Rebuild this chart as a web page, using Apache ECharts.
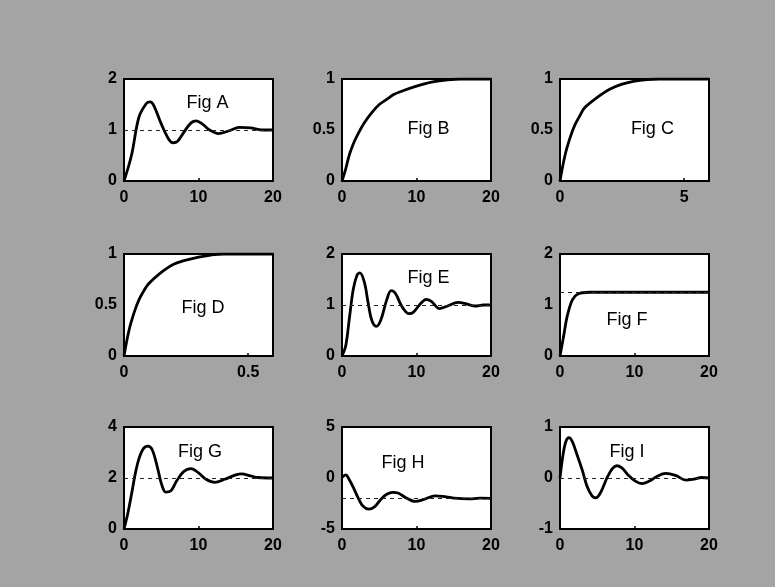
<!DOCTYPE html>
<html>
<head>
<meta charset="utf-8">
<script src="https://cdn.jsdelivr.net/npm/echarts@6/dist/echarts.min.js"></script>
<style>
  html, body { margin: 0; padding: 0; background: #a4a4a4; }
  #chart { width: 775px; height: 587px; }
</style>
</head>
<body>
<div id="chart"></div>
<script>
// step response curves as [t, y]
const figA = [[0,0],[1,0.5],[2,1.25],[3,1.52],[3.5,1.55],[4,1.48],[5,1.12],[6,0.82],[6.6,0.75],[7.2,0.78],[8,0.95],[9,1.14],[9.7,1.18],[10.5,1.12],[11.5,1.0],[12.7,0.93],[14,0.98],[15.5,1.05],[17,1.04],[18.5,1.0],[20,1.0]];
const figB = [[0,0],[0.5,0.12],[1,0.26],[1.5,0.36],[2,0.44],[3,0.57],[4,0.67],[5,0.75],[6,0.8],[7,0.85],[8,0.88],[10,0.93],[12,0.97],[14,0.99],[16,1],[20,1]];
const figC = [[0,0],[0.2,0.25],[0.4,0.42],[0.6,0.55],[0.8,0.64],[1,0.72],[1.5,0.82],[2,0.9],[2.5,0.95],[3,0.98],[3.5,0.995],[4,1],[6,1]];
const figD = [[0,0],[0.02,0.25],[0.04,0.42],[0.06,0.55],[0.08,0.64],[0.1,0.71],[0.15,0.82],[0.2,0.9],[0.25,0.94],[0.3,0.97],[0.35,0.99],[0.4,1],[0.6,1]];
const figE = [[0,0],[0.5,0.2],[1,0.75],[1.5,1.3],[2,1.58],[2.4,1.63],[3,1.45],[3.5,1.05],[4,0.7],[4.6,0.58],[5.2,0.7],[6,1.1],[6.6,1.28],[7.2,1.22],[8,0.98],[9,0.83],[9.6,0.86],[10.5,1.02],[11.3,1.11],[12,1.07],[13.1,0.93],[14,0.97],[15.6,1.05],[16.5,1.03],[17.8,0.98],[19,1.0],[20,1.0]];
const figF = [[0,0],[0.25,0.2],[0.5,0.4],[0.75,0.62],[1,0.8],[1.5,1.05],[2,1.17],[2.5,1.22],[3,1.24],[4,1.25],[20,1.25]];
const figG = [[0,0],[0.5,0.6],[1,1.35],[1.5,2.15],[2,2.75],[2.6,3.15],[3.2,3.25],[3.8,3.1],[4.5,2.4],[5,1.8],[5.6,1.45],[6.3,1.5],[7,1.85],[8,2.25],[9,2.37],[10,2.2],[11,1.95],[12.2,1.83],[13.5,1.95],[15,2.12],[15.8,2.16],[17,2.08],[18,2.02],[20,2.0]];
const figH = [[0,0.05],[0.5,0.3],[1,-0.2],[1.5,-0.9],[2.2,-2.0],[2.8,-2.75],[3.6,-3.05],[4.4,-2.8],[5.2,-2.1],[6,-1.6],[6.8,-1.4],[7.6,-1.5],[8.5,-1.9],[9.8,-2.3],[11,-2.1],[12.5,-1.75],[13.5,-1.8],[15,-1.97],[17,-2.05],[18.5,-1.98],[20,-2.0]];
const figI = [[0,0],[0.4,0.45],[0.8,0.72],[1.2,0.79],[1.7,0.7],[2.3,0.45],[3,0.15],[3.6,-0.15],[4.3,-0.35],[4.8,-0.39],[5.4,-0.3],[6.3,0],[7,0.18],[7.6,0.24],[8.3,0.2],[9.2,0.05],[10,-0.05],[11,-0.11],[12,-0.06],[13,0.03],[14.2,0.09],[15.5,0.05],[16.9,-0.04],[18,-0.02],[19,0.01],[20,0]];

const curves = [figA, figB, figC, figD, figE, figF, figG, figH, figI];
const titles = ['Fig A', 'Fig B', 'Fig C', 'Fig D', 'Fig E', 'Fig F', 'Fig G', 'Fig H', 'Fig I'];
// final value (dashed line), null = none drawn
const finalValues = [1, null, null, null, 1, 1.25, 2, -2, 0];
// axis ranges
const xMax = [20, 20, 6, 0.6, 20, 20, 20, 20, 20];
const xStep = [10, 10, 5, 0.5, 10, 10, 10, 10, 10];
const yMin = [0, 0, 0, 0, 0, 0, 0, -5, -1];
const yMax = [2, 1, 1, 1, 2, 2, 4, 5, 1];
const yStep = [1, 0.5, 0.5, 0.5, 1, 1, 2, 5, 1];

// layout of the 3x3 boxes
const colLeft = [124, 342, 560];
const rowTop = [79, 254, 427];
const boxW = 149, boxH = 102;
// label spot inside each box (fraction of width / height)
const titlePos = [[0.56, 0.24], [0.58, 0.49], [0.62, 0.49], [0.53, 0.53], [0.58, 0.24], [0.45, 0.65], [0.51, 0.25], [0.41, 0.35], [0.45, 0.25]];

const labelFont = { color: '#000', fontSize: 16, fontWeight: 'bold', fontFamily: 'Liberation Sans, Arial, sans-serif' };

let grid = [], xAxis = [], yAxis = [], series = [], graphic = [];

curves.forEach((pts, i) => {
    const left = colLeft[i % 3], top = rowTop[Math.floor(i / 3)];
    grid.push({
        left: left, top: top, width: boxW, height: boxH,
        show: true, backgroundColor: '#fff', borderColor: '#000', borderWidth: 2
    });
    xAxis.push({
        type: 'value', gridIndex: i, min: 0, max: xMax[i], interval: xStep[i],
        axisLine: { show: false, onZero: false },
        axisTick: { show: true, inside: true, length: 3, lineStyle: { color: '#000', width: 1.5 } },
        splitLine: { show: false },
        axisLabel: Object.assign({ margin: 9, showMaxLabel: xMax[i] % xStep[i] === 0 }, labelFont)
    });
    yAxis.push({
        type: 'value', gridIndex: i, min: yMin[i], max: yMax[i], interval: yStep[i],
        axisLine: { show: false, onZero: false },
        axisTick: { show: false },
        splitLine: { show: false },
        axisLabel: Object.assign({ margin: 7 }, labelFont)
    });
    const s = {
        type: 'line', xAxisIndex: i, yAxisIndex: i, data: pts,
        smooth: 0.35, showSymbol: false, silent: true,
        lineStyle: { color: '#000', width: 2.8 }
    };
    if (finalValues[i] !== null) {
        s.markLine = {
            silent: true, symbol: 'none', label: { show: false },
            lineStyle: { color: '#222', type: [4, 4], width: 1 },
            data: [{ yAxis: finalValues[i] }]
        };
    }
    series.push(s);
    graphic.push({
        type: 'text', z: 100,
        x: left + boxW * titlePos[i][0], y: top + boxH * titlePos[i][1],
        style: {
            text: titles[i], fill: '#000', fontSize: 18,
            fontFamily: 'Liberation Sans, Arial, sans-serif',
            align: 'center', verticalAlign: 'middle'
        }
    });
});

let option = {
    backgroundColor: '#a4a4a4',
    animation: false,
    grid: grid,
    xAxis: xAxis,
    yAxis: yAxis,
    series: series,
    graphic: graphic
};

const myChart = echarts.init(document.getElementById('chart'));
myChart.setOption(option);
</script>
</body>
</html>
